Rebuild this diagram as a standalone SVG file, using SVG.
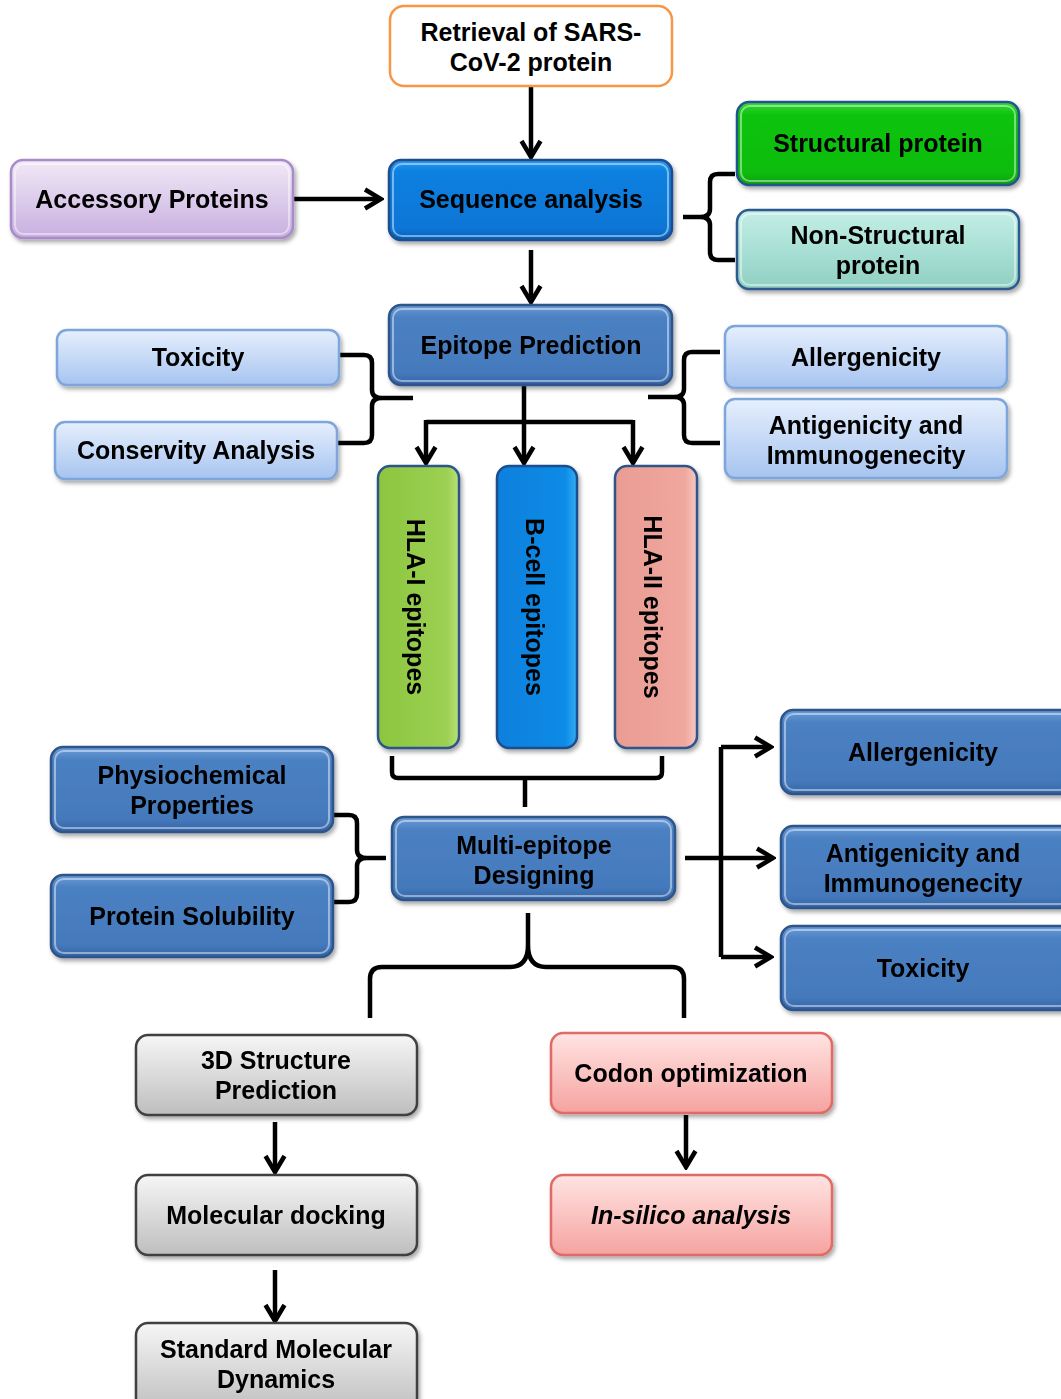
<svg xmlns="http://www.w3.org/2000/svg" width="1061" height="1399" viewBox="0 0 1061 1399">
<defs>
<style>
.t{font-family:"Liberation Sans",Arial,sans-serif;font-weight:bold;font-size:25px;fill:#000;text-anchor:middle}
.it{font-style:italic}
.box{stroke-width:2.5}
.hl{fill:none;stroke:#fff;stroke-opacity:0.45;stroke-width:2}
.c{fill:none;stroke:#000;stroke-width:4.5;stroke-linejoin:round}
.a{marker-end:url(#ah)}
</style>
<marker id="ah" viewBox="0 0 24 24" refX="21" refY="12" markerWidth="24" markerHeight="24" markerUnits="userSpaceOnUse" orient="auto">
<path d="M5,2.5 L21,12 L5,21.5" fill="none" stroke="#000" stroke-width="4.5"/>
</marker>
<filter id="sh" x="-10%" y="-10%" width="125%" height="130%">
<feDropShadow dx="2" dy="3" stdDeviation="2" flood-color="#000" flood-opacity="0.35"/>
</filter>
<linearGradient id="gBlue" x1="0" y1="0" x2="0" y2="1"><stop offset="0" stop-color="#2C98F2"/><stop offset="0.15" stop-color="#0A80E0"/><stop offset="0.85" stop-color="#0876D6"/><stop offset="1" stop-color="#0560B8"/></linearGradient>
<linearGradient id="gMid" x1="0" y1="0" x2="0" y2="1"><stop offset="0" stop-color="#6C9CD6"/><stop offset="0.15" stop-color="#4B81C3"/><stop offset="0.85" stop-color="#4479BC"/><stop offset="1" stop-color="#3563A3"/></linearGradient>
<linearGradient id="gGreen" x1="0" y1="0" x2="0" y2="1"><stop offset="0" stop-color="#3AD83A"/><stop offset="0.15" stop-color="#0FC40F"/><stop offset="0.85" stop-color="#08BC08"/><stop offset="1" stop-color="#07A007"/></linearGradient>
<linearGradient id="gTeal" x1="0" y1="0" x2="0" y2="1"><stop offset="0" stop-color="#C4EEE5"/><stop offset="0.5" stop-color="#A9E0D5"/><stop offset="1" stop-color="#8FCFC1"/></linearGradient>
<linearGradient id="gLav" x1="0" y1="0" x2="0" y2="1"><stop offset="0" stop-color="#F1E9F7"/><stop offset="1" stop-color="#C8AFDF"/></linearGradient>
<linearGradient id="gLight" x1="0" y1="0" x2="0" y2="1"><stop offset="0" stop-color="#E6EFFD"/><stop offset="1" stop-color="#A6C4F0"/></linearGradient>
<linearGradient id="gGray" x1="0" y1="0" x2="0" y2="1"><stop offset="0" stop-color="#F6F6F6"/><stop offset="1" stop-color="#BEBEBE"/></linearGradient>
<linearGradient id="gPink" x1="0" y1="0" x2="0" y2="1"><stop offset="0" stop-color="#FFE4E2"/><stop offset="1" stop-color="#F5A3A0"/></linearGradient>
<linearGradient id="gH1" x1="0" y1="0" x2="1" y2="0"><stop offset="0" stop-color="#8CC63F"/><stop offset="0.85" stop-color="#9CD052"/><stop offset="1" stop-color="#B8E27A"/></linearGradient>
<linearGradient id="gBc" x1="0" y1="0" x2="1" y2="0"><stop offset="0" stop-color="#0780DC"/><stop offset="0.85" stop-color="#0A8BE6"/><stop offset="1" stop-color="#35AEF5"/></linearGradient>
<linearGradient id="gH2" x1="0" y1="0" x2="1" y2="0"><stop offset="0" stop-color="#E99C92"/><stop offset="0.85" stop-color="#F0A79E"/><stop offset="1" stop-color="#F8C8C1"/></linearGradient>
</defs>
<rect width="1061" height="1399" fill="#fff"/>

<g id="connectors">
<path class="c a" d="M531,86 V157"/>
<path class="c a" d="M293,199 H381"/>
<path class="c a" d="M531,250 V302"/>
<path class="c" d="M735,174 H718 Q710,174 710,182 V209 Q710,217 700,217 H683 M700,217 Q710,217 710,225 V252 Q710,260 718,260 H735"/>
<path class="c" d="M340,355 H364 Q372,355 372,363 V390 Q372,398 382,398 H413 M382,398 Q372,398 372,406 V435 Q372,443 364,443 H338"/>
<path class="c" d="M720,352 H692 Q684,352 684,360 V389 Q684,397 674,397 H648 M674,397 Q684,397 684,405 V435 Q684,443 692,443 H720"/>
<path class="c" d="M524,385 V422"/>
<path class="c a" d="M524,420 V463"/>
<path class="c" d="M426,422 H633"/>
<path class="c a" d="M426,420 V463"/>
<path class="c a" d="M633,420 V463"/>
<path class="c" d="M392,756 V772 Q392,778 398,778 H656 Q662,778 662,772 V756 M525,778 V807"/>
<path class="c" d="M333,815 H349 Q357,815 357,823 V850 Q357,858 367,858 H386 M367,858 Q357,858 357,866 V894 Q357,902 349,902 H333"/>
<path class="c a" d="M685,858 H773"/>
<path class="c" d="M721,747 V957"/>
<path class="c a" d="M721,747 H771"/>
<path class="c a" d="M721,957 H771"/>
<path class="c" d="M528,913 V945 Q528,967 510,967 H382 Q370,967 370,979 V1018 M528,945 Q528,967 546,967 H672 Q684,967 684,979 V1018"/>
<path class="c a" d="M275,1122 V1172"/>
<path class="c a" d="M275,1270 V1321"/>
<path class="c a" d="M686,1115 V1167"/>
</g>

<g id="n-retrieval">
<rect x="390" y="6" width="282" height="80" rx="14" fill="#fff" stroke="#F79646" stroke-width="2.5"/>
<text class="t" x="531" y="41">Retrieval of SARS-</text>
<text class="t" x="531" y="71">CoV-2 protein</text>
</g>
<g id="n-sequence" filter="url(#sh)">
<rect class="box" x="389" y="160" width="283" height="80" rx="12" fill="url(#gBlue)" stroke="#1F4E8C"/>
<rect class="hl" x="393" y="164" width="275" height="72" rx="9"/>
<text class="t" x="531" y="208">Sequence analysis</text>
</g>
<g id="n-accessory" filter="url(#sh)">
<rect class="box" x="11" y="160" width="282" height="78" rx="12" fill="url(#gLav)" stroke="#A88BC8"/>
<rect class="hl" x="15" y="164" width="274" height="70" rx="9"/>
<text class="t" x="152" y="208">Accessory Proteins</text>
</g>
<g id="n-structural" filter="url(#sh)">
<rect class="box" x="737" y="102" width="282" height="83" rx="12" fill="url(#gGreen)" stroke="#24548E"/>
<rect class="hl" x="741" y="106" width="274" height="75" rx="9"/>
<text class="t" x="878" y="152">Structural protein</text>
</g>
<g id="n-nonstructural" filter="url(#sh)">
<rect class="box" x="737" y="210" width="282" height="79" rx="12" fill="url(#gTeal)" stroke="#2E5A8E"/>
<rect class="hl" x="741" y="214" width="274" height="71" rx="9"/>
<text class="t" x="878" y="244">Non-Structural</text>
<text class="t" x="878" y="274">protein</text>
</g>
<g id="n-epitope" filter="url(#sh)">
<rect class="box" x="389" y="305" width="283" height="80" rx="12" fill="url(#gMid)" stroke="#2D548A"/>
<rect class="hl" x="393" y="309" width="275" height="72" rx="9"/>
<text class="t" x="531" y="354">Epitope Prediction</text>
</g>
<g id="n-toxicity1" filter="url(#sh)">
<rect class="box" x="57" y="330" width="282" height="55" rx="10" fill="url(#gLight)" stroke="#7EA6DA"/>
<text class="t" x="198" y="366">Toxicity</text>
</g>
<g id="n-conservity" filter="url(#sh)">
<rect class="box" x="55" y="422" width="282" height="57" rx="10" fill="url(#gLight)" stroke="#7EA6DA"/>
<text class="t" x="196" y="459">Conservity Analysis</text>
</g>
<g id="n-allergenicity1" filter="url(#sh)">
<rect class="box" x="725" y="326" width="282" height="62" rx="10" fill="url(#gLight)" stroke="#7EA6DA"/>
<text class="t" x="866" y="366">Allergenicity</text>
</g>
<g id="n-antigenicity1" filter="url(#sh)">
<rect class="box" x="725" y="399" width="282" height="79" rx="10" fill="url(#gLight)" stroke="#7EA6DA"/>
<text class="t" x="866" y="434">Antigenicity and</text>
<text class="t" x="866" y="464">Immunogenecity</text>
</g>
<g id="n-hla1" filter="url(#sh)">
<rect class="box" x="378" y="466" width="81" height="282" rx="12" fill="url(#gH1)" stroke="#2D548A"/>
<text class="t" transform="translate(416,607) rotate(90)" y="9">HLA-I epitopes</text>
</g>
<g id="n-bcell" filter="url(#sh)">
<rect class="box" x="497" y="466" width="80" height="282" rx="12" fill="url(#gBc)" stroke="#1F4E8C"/>
<text class="t" transform="translate(535,607) rotate(90)" y="9">B-cell epitopes</text>
</g>
<g id="n-hla2" filter="url(#sh)">
<rect class="box" x="615" y="466" width="82" height="282" rx="12" fill="url(#gH2)" stroke="#2D548A"/>
<text class="t" transform="translate(653,607) rotate(90)" y="9">HLA-II epitopes</text>
</g>
<g id="n-physio" filter="url(#sh)">
<rect class="box" x="51" y="747" width="282" height="85" rx="12" fill="url(#gMid)" stroke="#2D548A"/>
<rect class="hl" x="55" y="751" width="274" height="77" rx="9"/>
<text class="t" x="192" y="784">Physiochemical</text>
<text class="t" x="192" y="814">Properties</text>
</g>
<g id="n-solubility" filter="url(#sh)">
<rect class="box" x="51" y="875" width="282" height="82" rx="12" fill="url(#gMid)" stroke="#2D548A"/>
<rect class="hl" x="55" y="879" width="274" height="74" rx="9"/>
<text class="t" x="192" y="925">Protein Solubility</text>
</g>
<g id="n-multi" filter="url(#sh)">
<rect class="box" x="392" y="817" width="283" height="83" rx="12" fill="url(#gMid)" stroke="#2D548A"/>
<rect class="hl" x="396" y="821" width="275" height="75" rx="9"/>
<text class="t" x="534" y="854">Multi-epitope</text>
<text class="t" x="534" y="884">Designing</text>
</g>
<g id="n-allergenicity2" filter="url(#sh)">
<rect class="box" x="781" y="710" width="292" height="84" rx="12" fill="url(#gMid)" stroke="#2D548A"/>
<rect class="hl" x="785" y="714" width="284" height="76" rx="9"/>
<text class="t" x="923" y="761">Allergenicity</text>
</g>
<g id="n-antigenicity2" filter="url(#sh)">
<rect class="box" x="781" y="826" width="292" height="82" rx="12" fill="url(#gMid)" stroke="#2D548A"/>
<rect class="hl" x="785" y="830" width="284" height="74" rx="9"/>
<text class="t" x="923" y="862">Antigenicity and</text>
<text class="t" x="923" y="892">Immunogenecity</text>
</g>
<g id="n-toxicity2" filter="url(#sh)">
<rect class="box" x="781" y="926" width="292" height="84" rx="12" fill="url(#gMid)" stroke="#2D548A"/>
<rect class="hl" x="785" y="930" width="284" height="76" rx="9"/>
<text class="t" x="923" y="977">Toxicity</text>
</g>
<g id="n-3d" filter="url(#sh)">
<rect class="box" x="136" y="1035" width="281" height="80" rx="12" fill="url(#gGray)" stroke="#404040"/>
<text class="t" x="276" y="1069">3D Structure</text>
<text class="t" x="276" y="1099">Prediction</text>
</g>
<g id="n-docking" filter="url(#sh)">
<rect class="box" x="136" y="1175" width="281" height="80" rx="12" fill="url(#gGray)" stroke="#404040"/>
<text class="t" x="276" y="1224">Molecular docking</text>
</g>
<g id="n-smd" filter="url(#sh)">
<rect class="box" x="136" y="1323" width="281" height="90" rx="12" fill="url(#gGray)" stroke="#404040"/>
<text class="t" x="276" y="1358">Standard Molecular</text>
<text class="t" x="276" y="1388">Dynamics</text>
</g>
<g id="n-codon" filter="url(#sh)">
<rect class="box" x="551" y="1033" width="281" height="80" rx="12" fill="url(#gPink)" stroke="#E06A66"/>
<text class="t" x="691" y="1082">Codon optimization</text>
</g>
<g id="n-insilico" filter="url(#sh)">
<rect class="box" x="551" y="1175" width="281" height="80" rx="12" fill="url(#gPink)" stroke="#E06A66"/>
<text class="t it" x="691" y="1224">In-silico analysis</text>
</g>
</svg>
